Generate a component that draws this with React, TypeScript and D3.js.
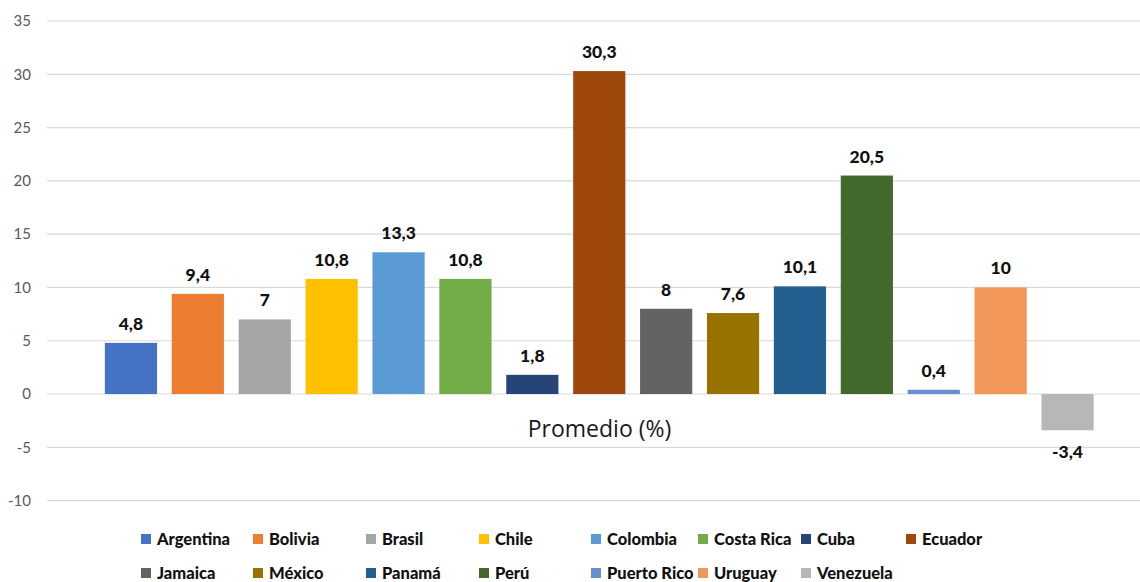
import React from "react";
import * as d3 from "d3";

const countries = ["Argentina","Bolivia","Brasil","Chile","Colombia","Costa Rica","Cuba","Ecuador","Jamaica","México","Panamá","Perú","Puerto Rico","Uruguay","Venezuela"];
const values = [4.8, 9.4, 7, 10.8, 13.3, 10.8, 1.8, 30.3, 8, 7.6, 10.1, 20.5, 0.4, 10, -3.4];
const colors = ["#4472C4","#ED7D31","#A5A5A5","#FFC000","#5B9BD5","#70AD47","#264478","#9E480E","#636363","#997300","#255E91","#43682B","#698ED0","#F1975A","#B7B7B7"];
const yTicks = [-10, -5, 0, 5, 10, 15, 20, 25, 30, 35];
const category = "Promedio (%)";

const W = 1140, H = 582;
const FONT = "Lato, 'Open Sans', sans-serif";

export default function App() {
  const y = d3.scaleLinear().domain([-10, 35]).range([500.6, 21]);
  const x = d3.scaleBand<string>().domain(countries).range([97.5, 1101]).paddingInner(0.22).paddingOuter(0.11);
  const fmt = (v: number) => String(v).replace(".", ",");
  const legendCols = [141, 253, 366, 479, 591, 698, 801, 906];
  const rowY = [539, 573];
  return (
    <svg width={W} height={H} style={{ position: "absolute", left: 0, top: 0, background: "#fff" }}>
      <rect width={W} height={H} fill="#fff" />
      {yTicks.map((t) => (
        <g key={t}>
          <line x1={47} x2={W} y1={y(t)} y2={y(t)} stroke="#d9d9d9" strokeWidth={1.2} />
          <text x={31} y={y(t)} dy="0.35em" textAnchor="end" fontFamily={FONT} fontSize={15} fill="#595959">{t}</text>
        </g>
      ))}
      {countries.map((c, i) => {
        const v = values[i];
        const bx = x(c)!;
        const top = Math.min(y(v), y(0));
        const h = Math.abs(y(v) - y(0));
        return (
          <g key={c}>
            <rect x={bx} y={top} width={x.bandwidth()} height={h} fill={colors[i]} />
            <text x={bx + x.bandwidth() / 2} y={v >= 0 ? y(v) - 13 : y(v) + 28} textAnchor="middle" fontFamily={FONT} fontWeight={900} fontSize={17.5} fill="#111">{fmt(v)}</text>
          </g>
        );
      })}
      <text x={599.5} y={437} textAnchor="middle" fontFamily="'Open Sans', sans-serif" fontSize={23} fill="#1a1a1a">{category}</text>
      {countries.map((c, i) => {
        const col = i % 8, row = Math.floor(i / 8);
        const lx = legendCols[col];
        const ly = rowY[row];
        return (
          <g key={"l" + c}>
            <rect x={lx} y={ly - 5} width={10} height={10} fill={colors[i]} />
            <text x={lx + 16} y={ly} dy="0.35em" fontFamily={FONT} fontWeight={900} fontSize={16.5} fill="#111">{c}</text>
          </g>
        );
      })}
    </svg>
  );
}
